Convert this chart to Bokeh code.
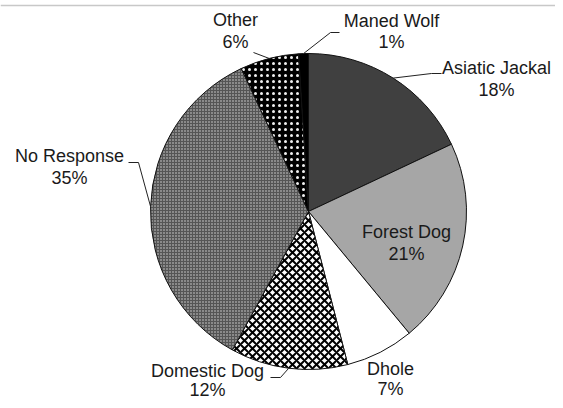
import math
from bokeh.plotting import figure
from bokeh.models import Range1d, Span, ColumnDataSource
from bokeh.embed import file_html
from bokeh.resources import INLINE
from bokeh.core.properties import value

# ---- data (clockwise from 12 o'clock) ----
categories = ["Asiatic Jackal", "Forest Dog", "Dhole", "Domestic Dog",
              "No Response", "Other", "Maned Wolf"]
percent = [18, 21, 7, 12, 35, 6, 1]
pct_labels = ["18%", "21%", "7%", "12%", "35%", "6%", "1%"]

# ---- styles ----
fill_colors = ["#404040", "#a6a6a6", "#ffffff", "#ffffff", "#555555", "#000000", "#000000"]
hatch_patterns = [" ", " ", " ", "diagonal_cross", "dot", "dot", " "]
hatch_colors = ["black", "black", "black", "black", "#d8d8d8", "#f0f0f0", "black"]
hatch_scales = [8, 8, 8, 8, 3, 6, 8]
hatch_weights = [1, 1, 1, 2, 1.4, 1.6, 1]

W, H = 555, 400
def sy(y):  # screen y (from top) -> data y
    return H - y

CX, CY, R = 308, sy(211), 158

total = sum(percent)
starts, ends, mids = [], [], []
cum = 0.0
for v in percent:
    a0 = math.pi / 2 - 2 * math.pi * cum / total
    cum += v
    a1 = math.pi / 2 - 2 * math.pi * cum / total
    starts.append(a0)
    ends.append(a1)
    mids.append((a0 + a1) / 2)

src = ColumnDataSource(dict(
    start=starts, end=ends, fill=fill_colors, hp=hatch_patterns,
    hc=hatch_colors, hs=hatch_scales, hw=hatch_weights))

p = figure(width=W, height=H, output_backend="svg", toolbar_location=None,
           x_range=Range1d(0, W), y_range=Range1d(0, H),
           min_border=0, tools="")
p.axis.visible = False
p.grid.visible = False
p.outline_line_color = None
p.background_fill_color = "white"

p.add_layout(Span(location=sy(5), dimension="width", line_color="#c8c8c8", line_width=1.5))

p.wedge(x=CX, y=CY, radius=R, start_angle="start", end_angle="end",
        direction="clock", source=src, fill_color="fill",
        hatch_pattern="hp", hatch_color="hc", hatch_scale="hs", hatch_weight="hw",
        line_color="#111111", line_width=1)

# ---- labels (layout positions in screen px: centre x, first / second line centre y) ----
label_pos = {
    "Asiatic Jackal": (496, 67, 89),
    "Forest Dog": (406, 231, 253),
    "Dhole": (390, 368, 388),
    "Domestic Dog": (207, 370, 389),
    "No Response": (69, 155, 177),
    "Other": (235, 19, 41),
    "Maned Wolf": (391, 20, 41),
}
tx, ty1, ty2 = [], [], []
for c in categories:
    x, y1, y2 = label_pos[c]
    tx.append(x)
    ty1.append(sy(y1))
    ty2.append(sy(y2))

font = value("Liberation Sans")
p.text(x=tx, y=ty1, text=categories, text_align="center", text_baseline="middle",
       text_font=font, text_font_size="18px", text_color="#1a1a1a")
p.text(x=tx, y=ty2, text=pct_labels, text_align="center", text_baseline="middle",
       text_font=font, text_font_size="18px", text_color="#1a1a1a")

# ---- leader lines: label-side anchor points, ending at slice edge ----
leader_anchor = {
    "Asiatic Jackal": [(441, 73), (431, 73)],
    "Maned Wolf": [(339, 32), (330, 32)],
    "Other": [(253, 52)],
    "No Response": [(128, 162), (138, 162)],
    "Domestic Dog": [(270, 377), (280, 377)],
}
lxs, lys = [], []
for i, c in enumerate(categories):
    if c not in leader_anchor:
        continue
    pts = leader_anchor[c]
    xs = [x for x, _ in pts]
    ys = [sy(y) for _, y in pts]
    xs.append(CX + R * math.cos(mids[i]))
    ys.append(CY + R * math.sin(mids[i]))
    lxs.append(xs)
    lys.append(ys)
p.multi_line(xs=lxs, ys=lys, line_color="#222222", line_width=1)

open("out.html", "w").write(file_html(p, INLINE))
